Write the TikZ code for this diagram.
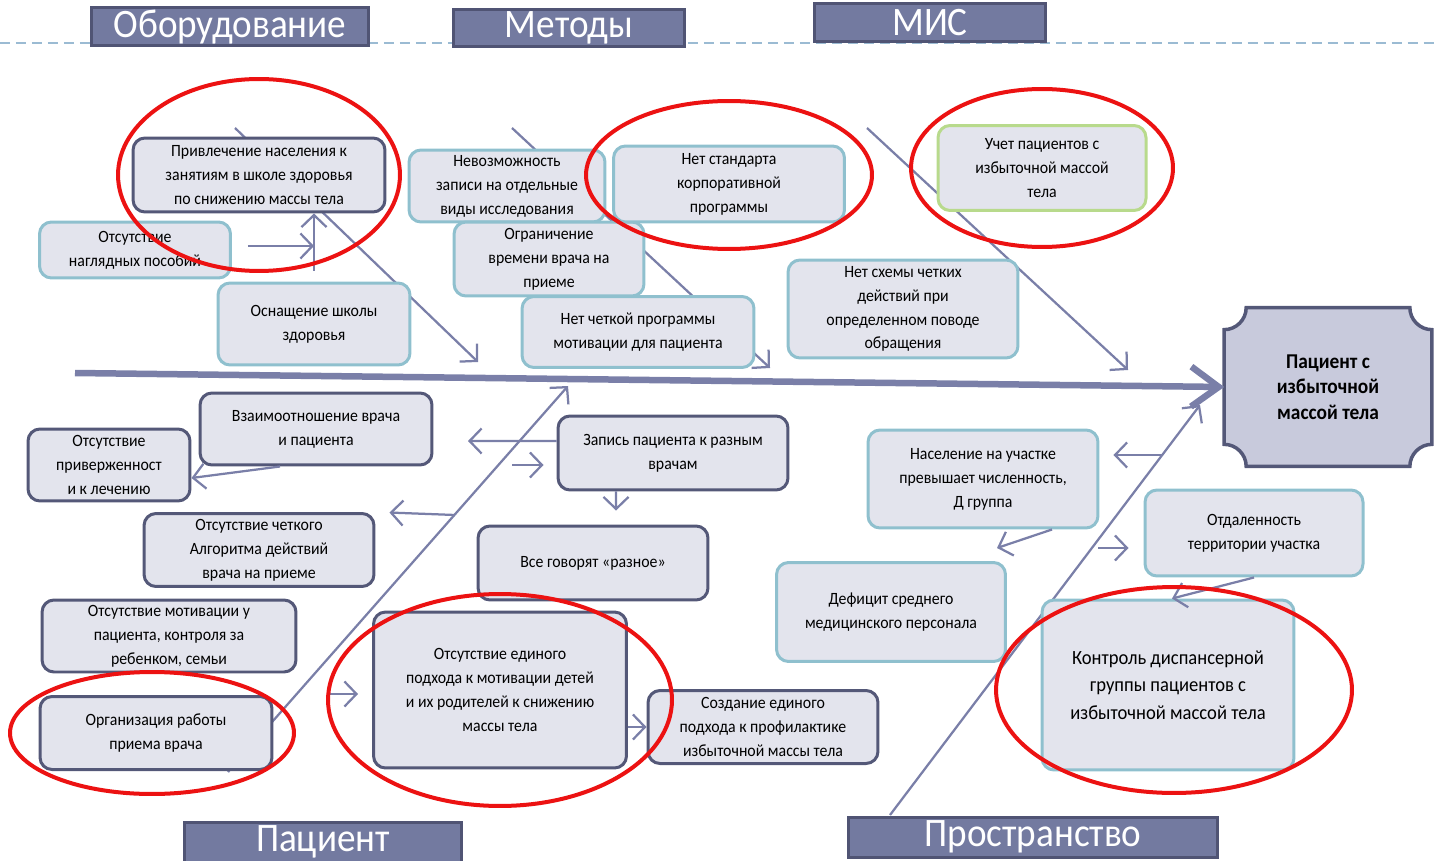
\documentclass[tikz,border=0pt]{standalone}
\usepackage{fontspec}
\setmainfont{Carlito}[FakeStretch=0.92]
\usetikzlibrary{arrows.meta,backgrounds}
\definecolor{hdfill}{RGB}{115,122,160}
\definecolor{hdline}{RGB}{80,84,116}
\definecolor{boxfill}{RGB}{227,228,237}
\definecolor{bluerim}{RGB}{143,192,206}
\definecolor{darkrim}{RGB}{84,88,120}
\definecolor{greenrim}{RGB}{184,218,140}
\definecolor{bone}{RGB}{122,127,168}
\definecolor{headfill}{RGB}{200,202,220}
\definecolor{dashblue}{RGB}{155,187,211}
\definecolor{ringred}{RGB}{236,18,18}
\newcommand{\boxfont}{\fontsize{9.8}{13.6}\selectfont}
\tikzstyle{headbox} = [rectangle, draw=hdline, fill=hdfill, line width=0.06cm, text=white, inner sep=0pt, font=\fontsize{23}{25}\selectfont]
\tikzstyle{bluebox} = [rectangle, rounded corners=0.24cm, draw=bluerim, fill=boxfill, line width=0.06cm, align=center, inner sep=2pt, font=\boxfont]
\tikzstyle{darkbox} = [bluebox, draw=darkrim]
\tikzstyle{greenbox} = [bluebox, draw=greenrim]
\tikzstyle{redring} = [draw=ringred, line width=0.08cm]

\begin{document}
\begin{tikzpicture}[x=0.02cm, y=-0.02cm]
        \tikzset{barb/.style={draw=bone, line width=0.045cm, -{Straight Barb[length=0.24cm,width=0.5cm]}}}
        \tikzset{spine/.style={draw=bone, line width=0.13cm, -{Straight Barb[length=0.55cm,width=0.8cm]}}}
        \useasboundingbox (0,0) rectangle (1435,861);

        \coordinate (dashL) at (0,43);
        \coordinate (dashR) at (1435,43);
        \draw [dashblue, line width=0.04cm, dash pattern=on 0.2cm off 0.12cm] (dashL) -- (dashR);

        \node (hOb) [headbox, minimum width=5.56cm, minimum height=0.76cm] at (230,27) {Оборудование};
        \node (hMet) [headbox, minimum width=4.62cm, minimum height=0.74cm] at (569,28) {Методы};
        \node (hMis) [headbox, minimum width=4.64cm, minimum height=0.76cm] at (930,23) {МИС};
        \node (hPac) [headbox, minimum width=5.56cm, minimum height=0.8cm] at (323,842) {Пациент};
        \node (hPro) [headbox, minimum width=7.38cm, minimum height=0.8cm] at (1033,837) {Пространство};

        \coordinate (obTail) at (235,128);
        \coordinate (obTip) at (478,362);
        \coordinate (metTail) at (512,128);
        \coordinate (metTip) at (770,368);
        \coordinate (misTail) at (867,128);
        \coordinate (misTip) at (1128,370);
        \coordinate (pacTail) at (228,772);
        \coordinate (pacTip) at (568,386);
        \coordinate (proTail) at (890,815);
        \coordinate (proTip) at (1200,405);
        \coordinate (spTail) at (75,373);

        \draw [barb] (obTail) -- (obTip);
        \draw [barb] (metTail) -- (metTip);
        \draw [barb] (misTail) -- (misTip);
        \draw [barb] (pacTail) -- (pacTip);
        \draw [barb] (proTail) -- (proTip);

        \node (patient) [minimum width=4.14cm, minimum height=3.16cm, align=center, font=\fontsize{12}{14.5}\selectfont\bfseries] at (1328,387) {Пациент с\\избыточной\\массой тела};
        \begin{scope}[on background layer]
        \filldraw [fill=headfill, draw=darkrim, line width=0.07cm] ([xshift=0.44cm]patient.north west) -- ([xshift=-0.44cm]patient.north east)
            .. controls +(0,12) and +(-12,0) .. ([yshift=-0.44cm]patient.north east)
            -- ([yshift=0.44cm]patient.south east)
            .. controls +(-12,0) and +(0,-12) .. ([xshift=-0.44cm]patient.south east)
            -- ([xshift=0.44cm]patient.south west)
            .. controls +(0,-12) and +(12,0) .. ([yshift=0.44cm]patient.south west)
            -- ([yshift=-0.44cm]patient.north west)
            .. controls +(12,0) and +(0,12) .. ([xshift=0.44cm]patient.north west) -- cycle;
        \end{scope}
        \draw [spine] (spTail) -- (patient.west);

        \node (schoolInvite) [darkbox, minimum width=5.04cm, minimum height=1.48cm] at (259,175) {Привлечение населения к\\занятиям в школе здоровья\\по снижению массы тела};
        \node (noAids) [bluebox, minimum width=3.82cm, minimum height=1.12cm] at (135,250) {Отсутствие\\наглядных пособий};
        \node (schoolKit) [bluebox, minimum width=3.84cm, minimum height=1.64cm] at (314,324) {Оснащение школы\\здоровья};

        \node (noBooking) [bluebox, minimum width=3.92cm, minimum height=1.44cm] at (507,186) {Невозможность\\записи на отдельные\\виды исследования};
        \node (shortTime) [bluebox, minimum width=3.8cm, minimum height=1.48cm] at (549,259) {Ограничение\\времени врача на\\приеме};
        \node (noStandard) [bluebox, minimum width=4.62cm, minimum height=1.52cm] at (729,184) {Нет стандарта\\корпоративной\\программы};
        \node (noMotivProg) [bluebox, minimum width=4.64cm, minimum height=1.42cm] at (638,332) {Нет четкой программы\\мотивации для пациента};

        \node (misRecord) [greenbox, minimum width=4.16cm, minimum height=1.7cm] at (1042,168) {Учет пациентов с\\избыточной массой\\тела};
        \node (noScheme) [bluebox, minimum width=4.6cm, minimum height=1.96cm] at (903,309) {Нет схемы четких\\действий при\\определенном поводе\\обращения};

        \node (relation) [darkbox, minimum width=4.64cm, minimum height=1.44cm] at (316,429) {Взаимоотношение врача\\и пациента};
        \node (noAdherence) [darkbox, minimum width=3.24cm, minimum height=1.44cm] at (109,465) {Отсутствие\\приверженност\\и к лечению};
        \node (noAlgo) [darkbox, minimum width=4.6cm, minimum height=1.46cm] at (259,550) {Отсутствие четкого\\Алгоритма действий\\врача на приеме};
        \node (noMotiv) [darkbox, minimum width=5.08cm, minimum height=1.44cm] at (169,636) {Отсутствие мотивации у\\пациента, контроля за\\ребенком, семьи};
        \node (orgWork) [darkbox, minimum width=4.64cm, minimum height=1.46cm] at (156,733) {Организация работы\\приема врача};
        \node (multiDoc) [darkbox, minimum width=4.6cm, minimum height=1.48cm] at (673,453) {Запись пациента к разным\\врачам};
        \node (mixedTalk) [darkbox, minimum width=4.6cm, minimum height=1.48cm] at (593,563) {Все говорят «разное»};
        \node (noUnified) [darkbox, minimum width=5.06cm, minimum height=3.12cm] at (500,690) {Отсутствие единого\\подхода к мотивации детей\\и их родителей к снижению\\массы тела};
        \node (unifiedPrev) [darkbox, minimum width=4.6cm, minimum height=1.46cm] at (763,727) {Создание единого\\подхода к профилактике\\избыточной массы тела};

        \node (overPop) [bluebox, minimum width=4.6cm, minimum height=1.96cm] at (983,479) {Население на участке\\превышает численность,\\Д группа};
        \node (remoteArea) [bluebox, minimum width=4.36cm, minimum height=1.72cm] at (1254,533) {Отдаленность\\территории участка};
        \node (nurseLack) [bluebox, minimum width=4.58cm, minimum height=1.98cm] at (891,612) {Дефицит среднего\\медицинского персонала};
        \node (dispControl) [bluebox, minimum width=5.04cm, minimum height=3.4cm, font=\fontsize{11.5}{15.6}\selectfont] at (1168,685) {Контроль диспансерной\\группы пациентов с\\избыточной массой тела};

        \coordinate (toAlgo) at (455,515);
        \coordinate (fromDoc) at (468,441);
        \coordinate (toDoc) at (512,465);
        \coordinate (toUnified) at (330,694);
        \coordinate (toOverPop) at (1163,455);
        \coordinate (fromOverPop) at (997,548);
        \coordinate (toRemote) at (1098,548);

        \draw [barb, shorten <=0.32cm] (noAids.east |- 0,246) -- (schoolKit.north |- 0,246);
        \draw [barb, shorten <=0.22cm] (schoolKit.north) -- (schoolInvite.south -| schoolKit.north);
        \draw [barb] ([xshift=-0.72cm]relation.south) -- ([yshift=-0.26cm]noAdherence.east);
        \draw [barb, shorten >=0.28cm] (toAlgo) -- (noAlgo.north east);
        \draw [barb] ([yshift=0.24cm]multiDoc.west) -- (fromDoc);
        \draw [barb, shorten >=0.26cm] (toDoc) -- (toDoc -| multiDoc.west);
        \draw [barb, shorten >=0.28cm] ([xshift=-1.14cm]multiDoc.south) -- ([xshift=0.46cm]mixedTalk.north);
        \draw [barb, shorten >=0.28cm] (toUnified) -- (toUnified -| noUnified.west);
        \draw [barb] (noUnified.east |- unifiedPrev.west) -- (unifiedPrev.west);
        \draw [barb, shorten >=0.28cm] (toOverPop) -- (toOverPop -| overPop.east);
        \draw [barb] ([xshift=1.38cm]overPop.south) -- (fromOverPop);
        \draw [barb, shorten >=0.3cm] (toRemote) -- (toRemote -| remoteArea.west);
        \draw [barb] (remoteArea.south) -- ([xshift=0.08cm]dispControl.north);

        \draw [redring] (schoolInvite.center) ellipse [x radius=2.82cm, y radius=1.92cm];
        \draw [redring] ([yshift=0.18cm]noStandard.center) ellipse [x radius=2.86cm, y radius=1.48cm];
        \draw [redring] (misRecord.center) ellipse [x radius=2.62cm, y radius=1.58cm];
        \draw [redring] ([xshift=-0.08cm]orgWork.center) ellipse [x radius=2.84cm, y radius=1.22cm];
        \draw [redring] ([yshift=-0.2cm]noUnified.center) ellipse [x radius=3.44cm, y radius=2.12cm];
        \draw [redring] ([xshift=0.12cm,yshift=-0.1cm]dispControl.center) ellipse [x radius=3.56cm, y radius=2.06cm];
\end{tikzpicture}
\end{document}
